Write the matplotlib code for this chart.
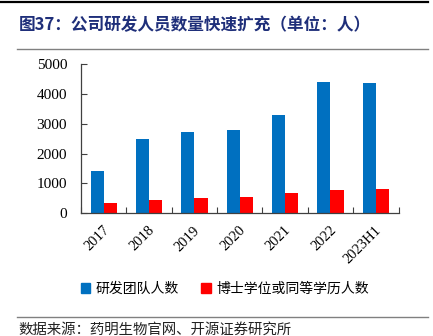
import numpy as np
import matplotlib.pyplot as plt
from matplotlib.lines import Line2D
from matplotlib.patches import Patch

plt.rcParams['font.family'] = ['Noto Sans CJK SC', 'DejaVu Sans']

# R&D headcount by year (persons)
years = ['2017', '2018', '2019', '2020', '2021', '2022', '2023H1']
rd_team = [1400, 2480, 2710, 2780, 3300, 4390, 4360]
phd_staff = [360, 450, 510, 530, 670, 770, 815]

blue = '#0070C0'
red = '#FF0000'
axis_col = '#404040'

W, H = 433, 336
fig = plt.figure(figsize=(W / 100, H / 100), dpi=100)

# plot area placed in pixel units
x0, x1 = 81, 398.5
y_top, y_bot = 64, 213.3
ax = fig.add_axes([x0 / W, 1 - y_bot / H, (x1 - x0) / W, (y_bot - y_top) / H])

x = np.arange(len(years))
bw = 0.29
ax.bar(x - bw / 2, rd_team, bw, color=blue)
ax.bar(x + bw / 2, phd_staff, bw, color=red)

ax.set_xlim(-0.5, len(years) - 0.5)
ax.set_ylim(0, 5000)
ax.set_yticks(range(0, 5001, 1000))
ax.set_xticks(np.arange(len(years) + 1) - 0.5, minor=False)
ax.set_xticklabels([])
for i, yr in enumerate(years):
    ax.text(i - 0.02, -350, yr, rotation=45, ha='right', va='top',
            fontsize=10.5, family='Liberation Serif', rotation_mode='anchor')

for lab in ax.get_yticklabels():
    lab.set_family('Liberation Serif')
    lab.set_fontsize(11)
ax.tick_params(axis='both', direction='in', length=4, color=axis_col, width=0.8)
ax.tick_params(axis='y', pad=10)
for s in ['top', 'right']:
    ax.spines[s].set_visible(False)
for s in ['left', 'bottom']:
    ax.spines[s].set_color(axis_col)
    ax.spines[s].set_linewidth(0.9)

# header and footer rules
fig.add_artist(Line2D([0, 428 / W], [1 - 2 / H, 1 - 2 / H], color='black', lw=1.6))
fig.add_artist(Line2D([17 / W, 428 / W], [1 - 49 / H, 1 - 49 / H], color='#808080', lw=1.0))
fig.add_artist(Line2D([17 / W, 428 / W], [1 - 317 / H, 1 - 317 / H], color='#808080', lw=1.0))

fig.text(19 / W, 1 - 25 / H, '图37：公司研发人员数量快速扩充（单位：人）',
         fontsize=12, fontweight='bold', color='#1F2F7A', va='center', ha='left')
fig.text(18 / W, 1 - 330 / H, '数据来源：药明生物官网、开源证券研究所',
         fontsize=10.4, color='#222222', va='center', ha='left')

handles = [Patch(color=blue), Patch(color=red)]
fig.legend(handles, ['研发团队人数', '博士学位或同等学历人数'],
           loc='center', bbox_to_anchor=(225 / W, 1 - 289 / H), ncol=2,
           frameon=False, fontsize=10, handlelength=0.7, handleheight=0.7,
           handletextpad=0.4, columnspacing=1.6)

fig.savefig('out.png', dpi=100)
